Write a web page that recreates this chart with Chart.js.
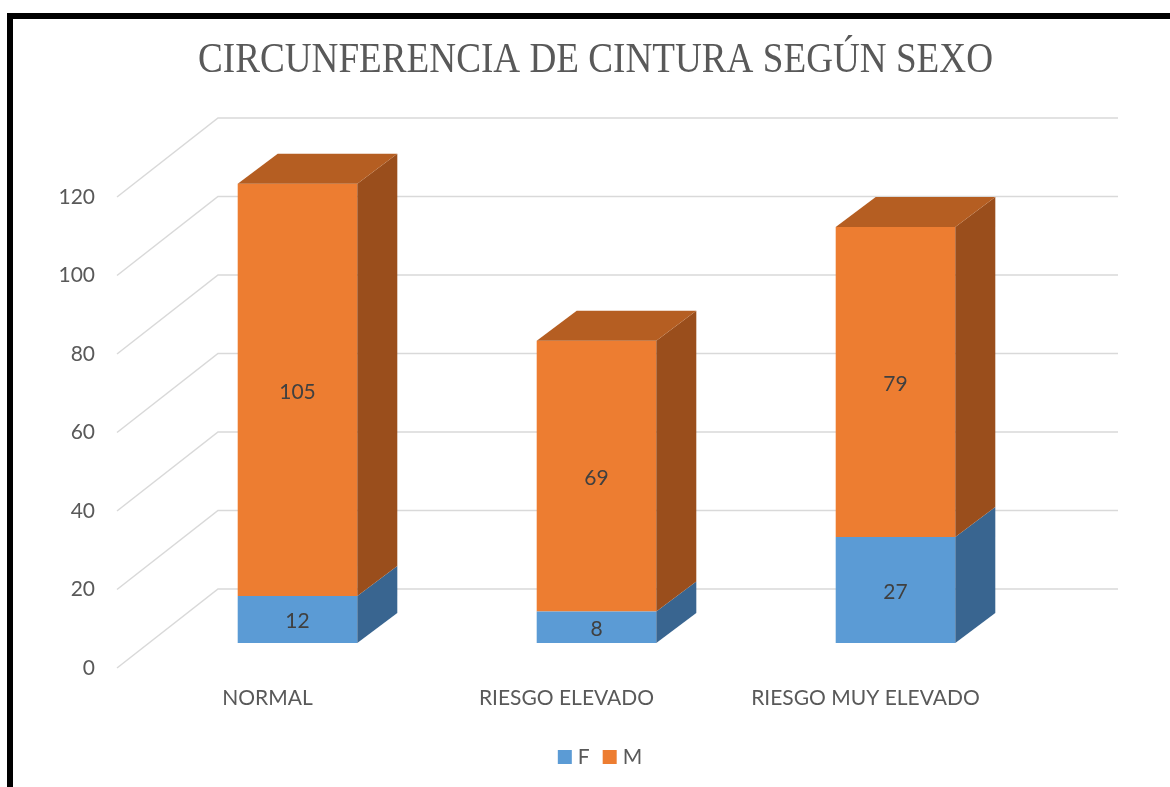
<!DOCTYPE html>
<html>
<head>
<meta charset="utf-8">
<script src="https://cdn.jsdelivr.net/npm/chart.js@4.4.1/dist/chart.umd.min.js"></script>
<style>
  html, body { margin: 0; padding: 0; background: #ffffff; }
  #wrap { width: 1170px; height: 787px; position: relative; }
  canvas { display: block; }
</style>
</head>
<body>
<div id="wrap"><canvas id="c" width="1170" height="787"></canvas></div>
<script>
// ---- data ----
const chartTitle = 'CIRCUNFERENCIA DE CINTURA SEGÚN SEXO';
const categories = ['NORMAL', 'RIESGO ELEVADO', 'RIESGO MUY ELEVADO'];
const seriesNames = ['F', 'M'];
const femValues = [12, 8, 27];
const masValues = [105, 69, 79];
const yTickValues = [0, 20, 40, 60, 80, 100, 120];

// ---- styles ----
const frontColors = ['#5B9BD5', '#ED7D31'];
const sideColors = ['#396590', '#9A4E1C'];
const topColors = ['#4A80B3', '#B55E22'];
const textColor = '#595959';
const labelColor = '#404040';
const gridColor = '#D9D9D9';
const sansFont = 'Lato, "Open Sans", sans-serif';
const DEPTH = { dx: 40, dy: -30 };

const threeD = {
  id: 'threeD',
  beforeDraw(chart) {
    const ctx = chart.ctx;
    ctx.save();
    ctx.fillStyle = '#ffffff';
    ctx.fillRect(0, 0, chart.width, chart.height);
    // frame
    ctx.fillStyle = '#000000';
    ctx.fillRect(7, 13, 6, chart.height - 13);
    ctx.fillRect(7, 13, chart.width - 7, 6);
    // title (condensed serif)
    ctx.font = '42px "Liberation Serif", "Times New Roman", serif';
    ctx.fillStyle = textColor;
    ctx.textBaseline = 'alphabetic';
    ctx.textAlign = 'center';
    const w = ctx.measureText(chartTitle).width;
    const sx = 795 / w;
    ctx.translate(595.5, 72);
    ctx.scale(sx, 1);
    ctx.fillText(chartTitle, 0, 0);
    ctx.restore();
  },
  beforeDatasetsDraw(chart) {
    const ctx = chart.ctx;
    const ca = chart.chartArea;
    const ys = chart.scales.y;
    const xs = chart.scales.x;
    ctx.save();
    ctx.strokeStyle = gridColor;
    ctx.lineWidth = 1.5;
    ctx.font = '21px ' + sansFont;
    ctx.fillStyle = textColor;
    ctx.textAlign = 'right';
    ctx.textBaseline = 'middle';
    yTickValues.forEach(v => {
      const py = ys.getPixelForValue(v);
      ctx.beginPath();
      ctx.moveTo(ca.left - 31, py + 25);
      ctx.lineTo(ca.left + 70, py - 54);
      ctx.lineTo(ca.right + 73, py - 54);
      ctx.stroke();
      ctx.fillText(String(v), ca.left - 53, py + 25);
    });
    ctx.textAlign = 'center';
    categories.forEach((c, i) => {
      ctx.fillText(c, xs.getPixelForValue(i) - 30, ca.bottom + 55);
    });
    ctx.restore();
  },
  afterDatasetsDraw(chart) {
    const ctx = chart.ctx;
    const n = chart.data.datasets.length;
    ctx.save();
    for (let i = 0; i < categories.length; i++) {
      for (let d = 0; d < n; d++) {
        const el = chart.getDatasetMeta(d).data[i];
        const l = el.x - el.width / 2, r = el.x + el.width / 2;
        const t = el.y, b = el.base;
        ctx.fillStyle = sideColors[d];
        ctx.beginPath();
        ctx.moveTo(r, b); ctx.lineTo(r, t);
        ctx.lineTo(r + DEPTH.dx, t + DEPTH.dy);
        ctx.lineTo(r + DEPTH.dx, b + DEPTH.dy);
        ctx.closePath(); ctx.fill();
        if (d === n - 1) {
          ctx.fillStyle = topColors[d];
          ctx.beginPath();
          ctx.moveTo(l, t); ctx.lineTo(r, t);
          ctx.lineTo(r + DEPTH.dx, t + DEPTH.dy);
          ctx.lineTo(l + DEPTH.dx, t + DEPTH.dy);
          ctx.closePath(); ctx.fill();
        }
      }
    }
    // data labels
    ctx.font = '21px ' + sansFont;
    ctx.fillStyle = labelColor;
    ctx.textAlign = 'center';
    ctx.textBaseline = 'middle';
    for (let d = 0; d < n; d++) {
      const ds = chart.data.datasets[d];
      chart.getDatasetMeta(d).data.forEach((el, i) => {
        ctx.fillText(String(ds.data[i]), el.x, (el.y + el.base) / 2 + 2);
      });
    }
    ctx.restore();
  },
  afterDraw(chart) {
    // legend
    const ctx = chart.ctx;
    ctx.save();
    ctx.font = '21px ' + sansFont;
    ctx.textBaseline = 'middle';
    ctx.textAlign = 'left';
    const items = chart.data.datasets.map((ds, i) => ({ label: ds.label, color: frontColors[i], w: 14 + 6 + ctx.measureText(ds.label).width }));
    const gap = 13;
    const total = items.reduce((s, it) => s + it.w, 0) + gap * (items.length - 1);
    let x = 600 - total / 2;
    const cy = 757;
    items.forEach(it => {
      ctx.fillStyle = it.color;
      ctx.fillRect(x, cy - 7, 14, 14);
      ctx.fillStyle = textColor;
      ctx.fillText(it.label, x + 20, cy);
      x += it.w + gap;
    });
    ctx.restore();
  }
};

new Chart(document.getElementById('c'), {
  type: 'bar',
  data: {
    labels: categories,
    datasets: [
      { label: seriesNames[0], data: femValues, backgroundColor: frontColors[0], borderWidth: 0 },
      { label: seriesNames[1], data: masValues, backgroundColor: frontColors[1], borderWidth: 0 }
    ]
  },
  options: {
    responsive: false,
    animation: false,
    layout: { padding: { left: 148, right: 125, top: 172, bottom: 144 } },
    datasets: { bar: { barPercentage: 0.4, categoryPercentage: 1.0 } },
    scales: {
      x: { stacked: true, display: false },
      y: { stacked: true, display: false, min: 0, max: 120 }
    },
    plugins: {
      legend: { display: false },
      title: { display: false },
      tooltip: { enabled: false }
    }
  },
  plugins: [threeD]
});
</script>
</body>
</html>
